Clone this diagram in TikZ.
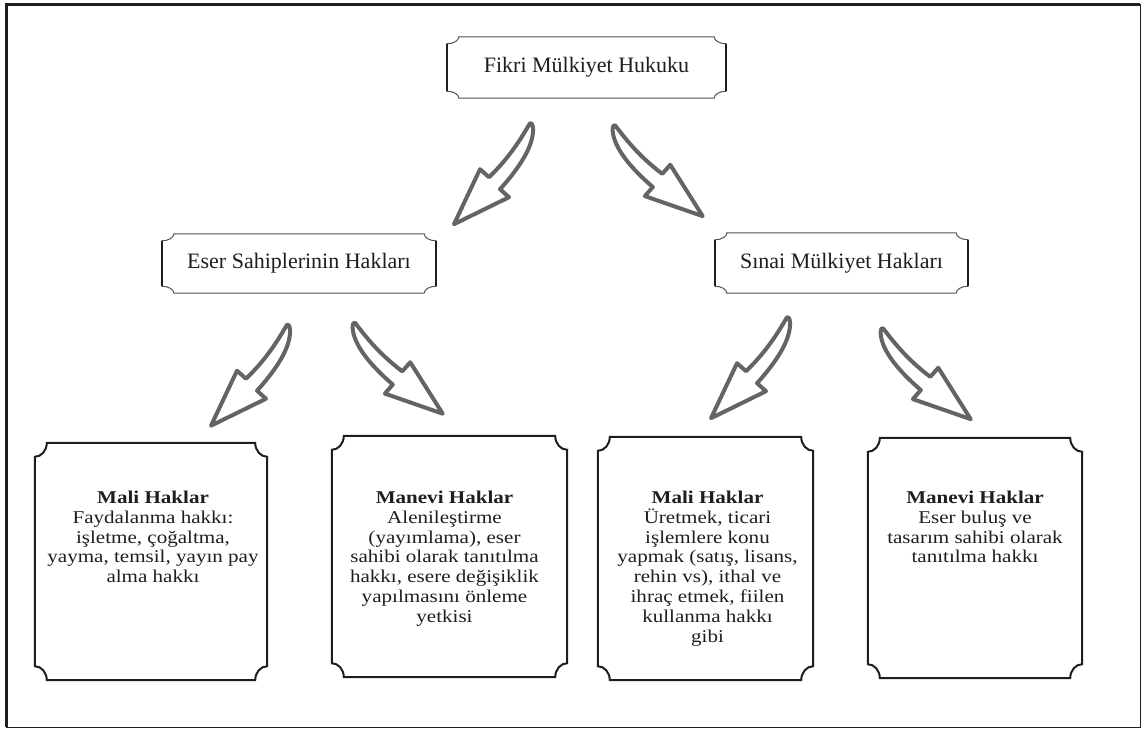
\documentclass[tikz,border=0pt]{standalone}
\usepackage{fontspec}
\setmainfont{Liberation Serif}
\newfontfamily\boxfont{Liberation Serif}[FakeStretch=1.17]
\usetikzlibrary{calc,positioning}

\definecolor{inkgray}{HTML}{1E1E1E}
\definecolor{arrowgray}{HTML}{646464}
\definecolor{edgegray}{HTML}{505050}

% plaque outline with hollow corners: node, x radius, y radius
\newcommand{\plaque}[4][]{%
  \draw[#1] ($(#2.north west)+(0,#4)$) .. controls +(0.55*#3,0) and +(0,0.55*#4) .. ($(#2.north west)+(#3,0)$)
    -- ($(#2.north east)+(-#3,0)$) .. controls +(0,0.55*#4) and +(-0.55*#3,0) .. ($(#2.north east)+(0,#4)$)
    -- ($(#2.south east)+(0,-#4)$) .. controls +(-0.55*#3,0) and +(0,-0.55*#4) .. ($(#2.south east)+(-#3,0)$)
    -- ($(#2.south west)+(#3,0)$) .. controls +(0,-0.55*#4) and +(0.55*#3,0) .. ($(#2.south west)+(0,-#4)$)
    -- cycle;}
\newcommand{\plaquesides}[2]{%
  \draw[line width=2pt, inkgray] ($(#1.north west)+(0,#2)$) -- ($(#1.south west)+(0,-#2)$);
  \draw[line width=2pt, inkgray] ($(#1.north east)+(0,#2)$) -- ($(#1.south east)+(0,-#2)$);}

\tikzset{
  headbox/.style={inner sep=0pt, font=\fontsize{22}{26}\selectfont, text=inkgray},
  bigbox/.style={inner sep=0pt},
  boxtext/.style={align=center, inner sep=0pt, font=\boxfont\fontsize{18}{19.8}\selectfont, text=inkgray},
  arrowline/.style={draw=arrowgray, fill=white, line width=4pt, line join=round},
  pics/bentarrow/.style={code={
    \draw[arrowline] (0,0) .. controls (-6,10) and (-18,32) .. (-41,54) -- (-50,46) -- (-76,101)
      -- (-21,74) -- (-30,66) .. controls (-10,44) and (4,22) .. (3,5) .. controls (2.5,1) and (1.5,-1) .. (0,0) -- cycle;
  }},
}

\begin{document}
\begin{tikzpicture}[x=1pt, y=-1pt]
	\useasboundingbox (0,0) rectangle (1142,729);
	\draw[line width=1pt, inkgray] (6,4) rectangle (1140.5,727);
	\draw[line width=2.2pt, inkgray] (6.5,727) -- (6.5,4.5) -- (1140,4.5);
%%%%%%%%%%%
	\node[headbox, minimum width=279pt, minimum height=61pt] (fikri) at (586.5,67.5) {Fikri Mülkiyet Hukuku};
	\node[headbox, minimum width=274pt, minimum height=59pt] (eser) at (299,263.5) {Eser Sahiplerinin Hakları};
	\node[headbox, minimum width=253pt, minimum height=60pt] (sinai) at (841.5,263) {Sınai Mülkiyet Hakları};
	\plaque[line width=1pt, edgegray]{fikri}{12}{7}
	\plaquesides{fikri}{7}
	\plaque[line width=1pt, edgegray]{eser}{12}{7}
	\plaquesides{eser}{7}
	\plaque[line width=1pt, edgegray]{sinai}{12}{7}
	\plaquesides{sinai}{7}
%%%%%%%%%%%
	\node[bigbox, minimum width=232pt, minimum height=237pt] (mali1) at (151,561.5) {};
	\node[bigbox, minimum width=235pt, minimum height=241pt] (manevi1) at (449.5,556.5) {};
	\node[bigbox, minimum width=215pt, minimum height=243pt] (mali2) at (705.5,558.5) {};
	\node[bigbox, minimum width=214pt, minimum height=240pt] (manevi2) at (975,558) {};
	\plaque[line width=2pt, inkgray]{mali1}{12}{14}
	\plaque[line width=2pt, inkgray]{manevi1}{12}{14}
	\plaque[line width=2pt, inkgray]{mali2}{12}{14}
	\plaque[line width=2pt, inkgray]{manevi2}{12}{14}
	\node[boxtext, below=48pt of mali1.north, xshift=2pt] (mali1t) {\textbf{Mali Haklar}\\Faydalanma hakkı:\\işletme, çoğaltma,\\yayma, temsil, yayın pay\\alma hakkı};
	\node[boxtext, below=55pt of manevi1.north, xshift=-5pt] (manevi1t) {\textbf{Manevi Haklar}\\Alenileştirme\\(yayımlama), eser\\sahibi olarak tanıtılma\\hakkı, esere değişiklik\\yapılmasını önleme\\yetkisi};
	\node[boxtext, below=54pt of mali2.north, xshift=2pt] (mali2t) {\textbf{Mali Haklar}\\Üretmek, ticari\\işlemlere konu\\yapmak (satış, lisans,\\rehin vs), ithal ve\\ihraç etmek, fiilen\\kullanma hakkı\\gibi};
	\node[boxtext, below=53pt of manevi2.north] (manevi2t) {\textbf{Manevi Haklar}\\Eser buluş ve\\tasarım sahibi olarak\\tanıtılma hakkı};
%%%%%%%%%%%
	\pic at ($(fikri.south)+(-56.5,25)$) {bentarrow};
	\pic[rotate=7, xscale=-1] at ($(fikri.south)+(28.5,27)$) {bentarrow};
	\pic at ($(eser.south)+(-12,31.5)$) {bentarrow};
	\pic[rotate=7, xscale=-1] at ($(eser.south)+(56,29.5)$) {bentarrow};
	\pic at ($(sinai.south)+(-54.5,24)$) {bentarrow};
	\pic[rotate=7, xscale=-1] at ($(sinai.south)+(41.5,35)$) {bentarrow};
\end{tikzpicture}
\end{document}
